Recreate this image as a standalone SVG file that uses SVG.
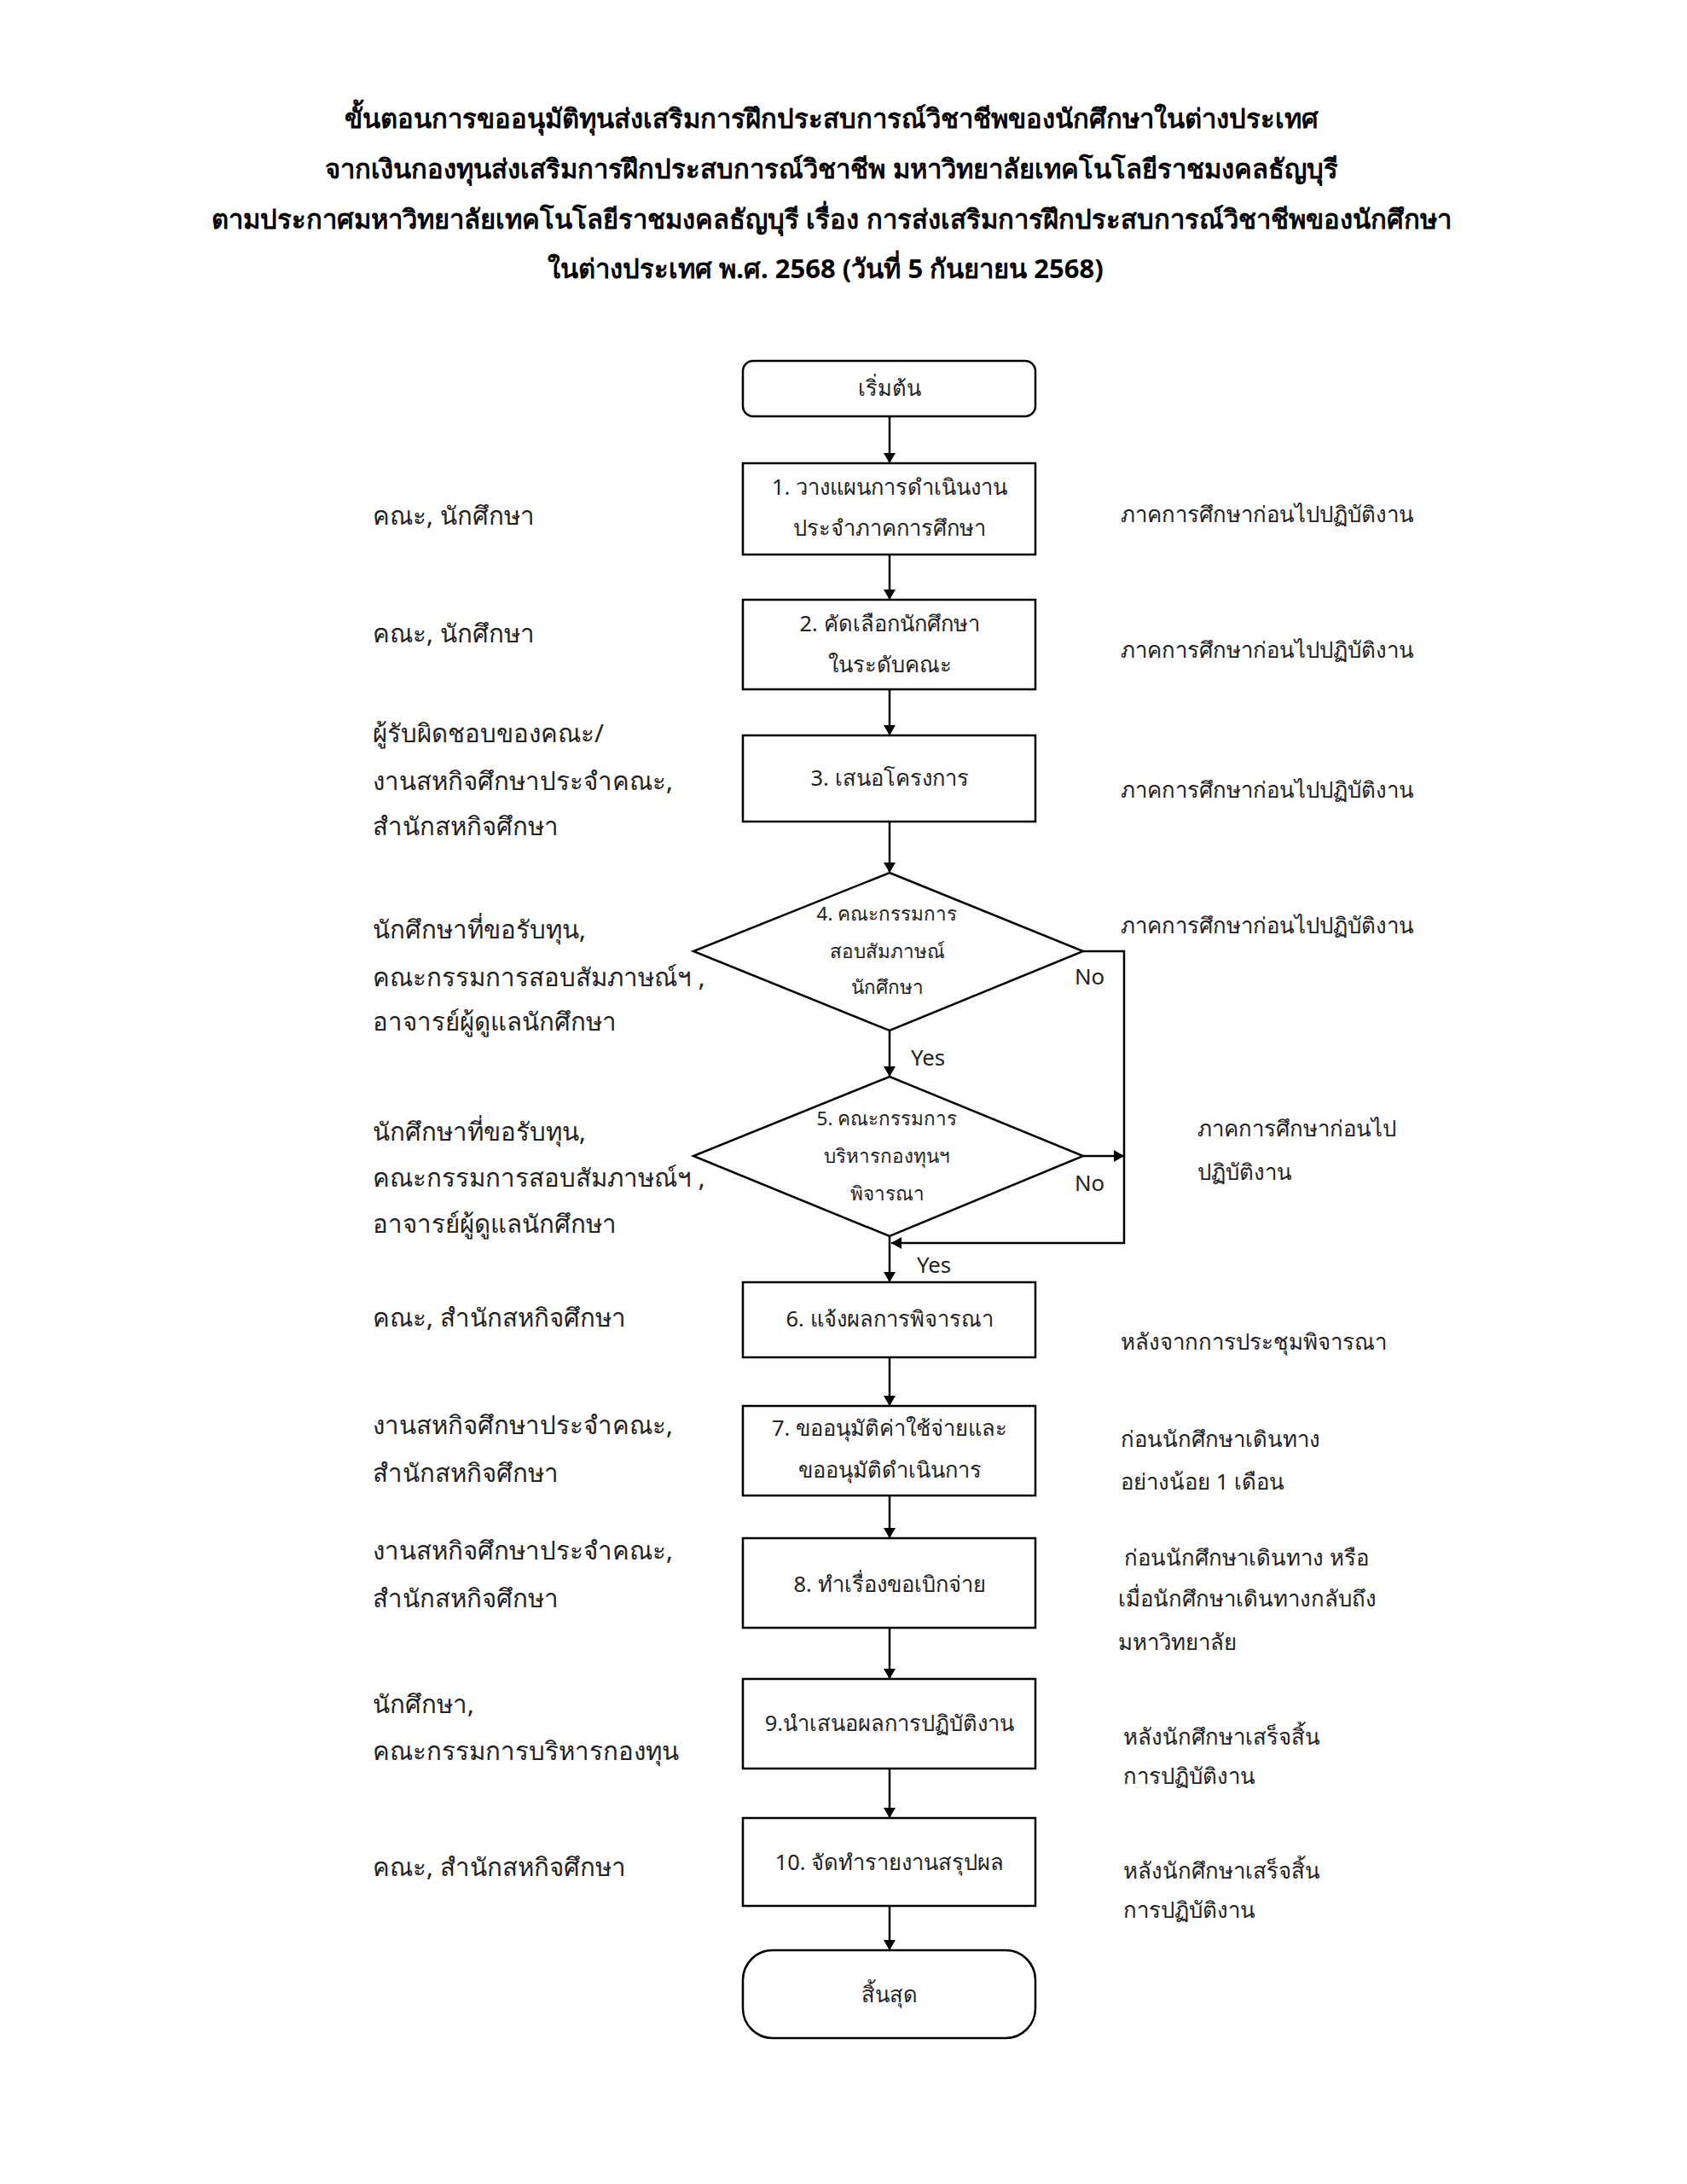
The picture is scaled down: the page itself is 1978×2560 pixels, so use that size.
<svg xmlns="http://www.w3.org/2000/svg" width="1978" height="2560" viewBox="0 0 1978 2560">
<defs>
<marker id="arr" viewBox="0 0 12 20" refX="12" refY="10" markerWidth="12" markerHeight="20" markerUnits="userSpaceOnUse" orient="auto">
<path d="M0,3 L12,10 L0,17 z" fill="#000"/>
</marker>
<style>
.t{font-family:"Noto Sans","Liberation Sans",sans-serif;font-size:28px;fill:#222}
.title{font-family:"Noto Sans","Liberation Sans",sans-serif;font-size:31px;font-weight:bold;fill:#000;text-anchor:middle}
.c{text-anchor:middle}
.b{font-size:25.5px}
.d{font-size:22.5px}
.l{font-size:29.5px}
.r{font-size:25.8px}
.box{fill:#fff;stroke:#000;stroke-width:2.5}
.ln{fill:none;stroke:#000;stroke-width:2.5}
</style>
</defs>
<rect width="1978" height="2560" fill="#fff"/>
<g id="title">
<text class="title" x="975" y="150">ขั้นตอนการขออนุมัติทุนส่งเสริมการฝึกประสบการณ์วิชาชีพของนักศึกษาในต่างประเทศ</text>
<text class="title" x="975" y="209">จากเงินกองทุนส่งเสริมการฝึกประสบการณ์วิชาชีพ มหาวิทยาลัยเทคโนโลยีราชมงคลธัญบุรี</text>
<text class="title" x="975" y="268">ตามประกาศมหาวิทยาลัยเทคโนโลยีราชมงคลธัญบุรี เรื่อง การส่งเสริมการฝึกประสบการณ์วิชาชีพของนักศึกษา</text>
<text class="title" x="968" y="326">ในต่างประเทศ พ.ศ. 2568 (วันที่ 5 กันยายน 2568)</text>
</g>
<g id="connectors">
<line class="ln" x1="1043" y1="488" x2="1043" y2="543" marker-end="url(#arr)"/>
<line class="ln" x1="1043" y1="650" x2="1043" y2="703" marker-end="url(#arr)"/>
<line class="ln" x1="1043" y1="808" x2="1043" y2="862" marker-end="url(#arr)"/>
<line class="ln" x1="1043" y1="963" x2="1043" y2="1023" marker-end="url(#arr)"/>
<line class="ln" x1="1043" y1="1208" x2="1043" y2="1262" marker-end="url(#arr)"/>
<line class="ln" x1="1043" y1="1449" x2="1043" y2="1503" marker-end="url(#arr)"/>
<line class="ln" x1="1043" y1="1591" x2="1043" y2="1648" marker-end="url(#arr)"/>
<line class="ln" x1="1043" y1="1753" x2="1043" y2="1803" marker-end="url(#arr)"/>
<line class="ln" x1="1043" y1="1908" x2="1043" y2="1968" marker-end="url(#arr)"/>
<line class="ln" x1="1043" y1="2073" x2="1043" y2="2131" marker-end="url(#arr)"/>
<line class="ln" x1="1043" y1="2234" x2="1043" y2="2286" marker-end="url(#arr)"/>
<polyline class="ln" points="1270,1115 1318,1115 1318,1457 1045,1457" marker-end="url(#arr)"/>
<line class="ln" x1="1270" y1="1355" x2="1318" y2="1355" marker-end="url(#arr)"/>
<text class="t r" x="1260" y="1154">No</text>
<text class="t r" x="1260" y="1396">No</text>
<text class="t r" x="1068" y="1249">Yes</text>
<text class="t r" x="1075" y="1492">Yes</text>
</g>
<g id="start">
<rect class="box" x="871" y="423" width="343" height="65" rx="12"/>
<text class="t c b" x="1043" y="464">เริ่มต้น</text>
</g>
<g id="step1">
<rect class="box" x="871" y="543" width="343" height="107"/>
<text class="t c b" x="1043" y="580">1. วางแผนการดำเนินงาน</text>
<text class="t c b" x="1043" y="628">ประจำภาคการศึกษา</text>
</g>
<g id="step2">
<rect class="box" x="871" y="703" width="343" height="105"/>
<text class="t c b" x="1043" y="740">2. คัดเลือกนักศึกษา</text>
<text class="t c b" x="1043" y="788">ในระดับคณะ</text>
</g>
<g id="step3">
<rect class="box" x="871" y="862" width="343" height="101"/>
<text class="t c b" x="1043" y="921">3. เสนอโครงการ</text>
</g>
<g id="step4">
<polygon class="box" points="1043,1023 1270,1115 1043,1208 813,1115"/>
<text class="t c d" x="1040" y="1079">4. คณะกรรมการ</text>
<text class="t c d" x="1040" y="1123">สอบสัมภาษณ์</text>
<text class="t c d" x="1040" y="1165">นักศึกษา</text>
</g>
<g id="step5">
<polygon class="box" points="1043,1262 1270,1355 1043,1449 813,1355"/>
<text class="t c d" x="1040" y="1319">5. คณะกรรมการ</text>
<text class="t c d" x="1040" y="1363">บริหารกองทุนฯ</text>
<text class="t c d" x="1040" y="1407">พิจารณา</text>
</g>
<g id="step6">
<rect class="box" x="871" y="1503" width="343" height="88"/>
<text class="t c b" x="1043" y="1555">6. แจ้งผลการพิจารณา</text>
</g>
<g id="step7">
<rect class="box" x="871" y="1648" width="343" height="105"/>
<text class="t c b" x="1043" y="1683">7. ขออนุมัติค่าใช้จ่ายและ</text>
<text class="t c b" x="1043" y="1732">ขออนุมัติดำเนินการ</text>
</g>
<g id="step8">
<rect class="box" x="871" y="1803" width="343" height="105"/>
<text class="t c b" x="1043" y="1866">8. ทำเรื่องขอเบิกจ่าย</text>
</g>
<g id="step9">
<rect class="box" x="871" y="1968" width="343" height="105"/>
<text class="t c b" x="1043" y="2029">9.นำเสนอผลการปฏิบัติงาน</text>
</g>
<g id="step10">
<rect class="box" x="871" y="2131" width="343" height="103"/>
<text class="t c b" x="1043" y="2192">10. จัดทำรายงานสรุปผล</text>
</g>
<g id="end">
<rect class="box" x="871" y="2286" width="343" height="103" rx="35"/>
<text class="t c b" x="1043" y="2347">สิ้นสุด</text>
</g>
<g id="left-labels">
<text class="t l" x="437" y="615">คณะ, นักศึกษา</text>
<text class="t l" x="437" y="753">คณะ, นักศึกษา</text>
<text class="t l" x="437" y="870">ผู้รับผิดชอบของคณะ/</text>
<text class="t l" x="437" y="926">งานสหกิจศึกษาประจำคณะ,</text>
<text class="t l" x="437" y="979">สำนักสหกิจศึกษา</text>
<text class="t l" x="437" y="1100">นักศึกษาที่ขอรับทุน,</text>
<text class="t l" x="437" y="1156">คณะกรรมการสอบสัมภาษณ์ฯ ,</text>
<text class="t l" x="437" y="1208">อาจารย์ผู้ดูแลนักศึกษา</text>
<text class="t l" x="437" y="1337">นักศึกษาที่ขอรับทุน,</text>
<text class="t l" x="437" y="1391">คณะกรรมการสอบสัมภาษณ์ฯ ,</text>
<text class="t l" x="437" y="1445">อาจารย์ผู้ดูแลนักศึกษา</text>
<text class="t l" x="437" y="1555">คณะ, สำนักสหกิจศึกษา</text>
<text class="t l" x="437" y="1681">งานสหกิจศึกษาประจำคณะ,</text>
<text class="t l" x="437" y="1737">สำนักสหกิจศึกษา</text>
<text class="t l" x="437" y="1828">งานสหกิจศึกษาประจำคณะ,</text>
<text class="t l" x="437" y="1884">สำนักสหกิจศึกษา</text>
<text class="t l" x="437" y="2008">นักศึกษา,</text>
<text class="t l" x="437" y="2063">คณะกรรมการบริหารกองทุน</text>
<text class="t l" x="437" y="2199">คณะ, สำนักสหกิจศึกษา</text>
</g>
<g id="right-labels">
<text class="t r" x="1314" y="612">ภาคการศึกษาก่อนไปปฏิบัติงาน</text>
<text class="t r" x="1314" y="771">ภาคการศึกษาก่อนไปปฏิบัติงาน</text>
<text class="t r" x="1314" y="935">ภาคการศึกษาก่อนไปปฏิบัติงาน</text>
<text class="t r" x="1314" y="1094">ภาคการศึกษาก่อนไปปฏิบัติงาน</text>
<text class="t r" x="1404" y="1332">ภาคการศึกษาก่อนไป</text>
<text class="t r" x="1404" y="1383">ปฏิบัติงาน</text>
<text class="t r" x="1314" y="1582">หลังจากการประชุมพิจารณา</text>
<text class="t r" x="1314" y="1696">ก่อนนักศึกษาเดินทาง</text>
<text class="t r" x="1314" y="1746">อย่างน้อย 1 เดือน</text>
<text class="t r" x="1318" y="1835">ก่อนนักศึกษาเดินทาง หรือ</text>
<text class="t r" x="1311" y="1883">เมื่อนักศึกษาเดินทางกลับถึง</text>
<text class="t r" x="1311" y="1934">มหาวิทยาลัย</text>
<text class="t r" x="1317" y="2045">หลังนักศึกษาเสร็จสิ้น</text>
<text class="t r" x="1317" y="2091">การปฏิบัติงาน</text>
<text class="t r" x="1317" y="2202">หลังนักศึกษาเสร็จสิ้น</text>
<text class="t r" x="1317" y="2248">การปฏิบัติงาน</text>
</g>
</svg>
